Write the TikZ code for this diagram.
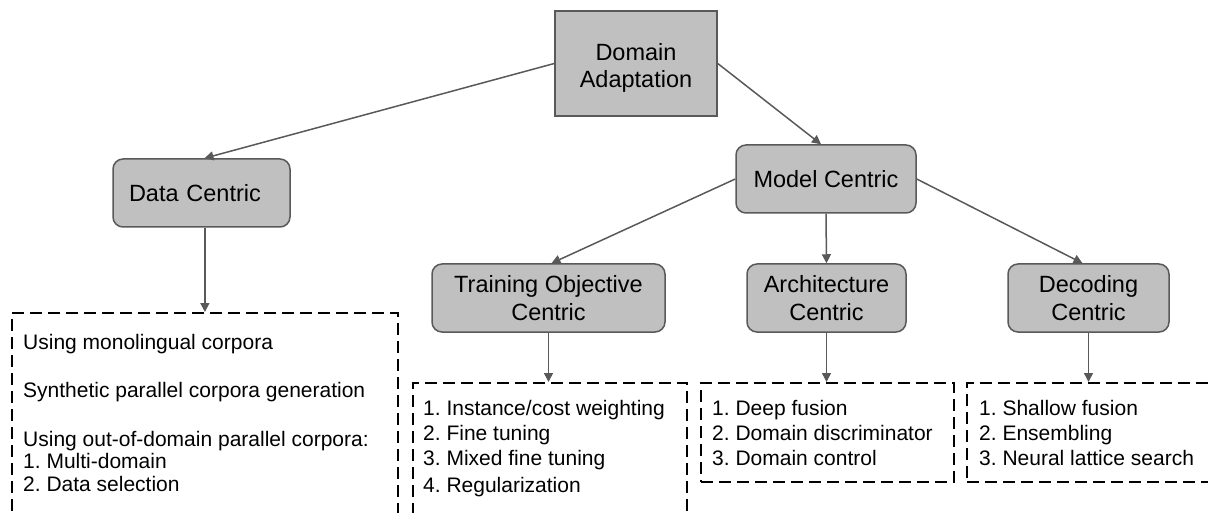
\documentclass[tikz,border=0pt]{standalone}
\usepackage{fontspec}
\setmainfont{Liberation Sans}
\usetikzlibrary{arrows.meta}
\definecolor{boxfill}{HTML}{C0C0C0}
\definecolor{boxline}{HTML}{595959}
\definecolor{connclr}{HTML}{595959}
\frenchspacing
\begin{document}
\begin{tikzpicture}[x=1pt,y=-1pt,
  catbox/.style={draw=boxline, fill=boxfill, line width=1.5pt, rounded corners=10pt,
    align=center, font=\fontsize{23.5}{27.5}\selectfont, inner sep=0pt, minimum height=68pt},
  rootbox/.style={catbox, rounded corners=0pt},
  labeltext/.style={align=center, font=\fontsize{23.5}{27.5}\selectfont, inner sep=0pt},
  listbox/.style={draw=black, line width=1.8pt, dash pattern=on 12pt off 6pt, inner sep=0pt},
  item/.style={anchor=base west, inner sep=0pt, font=\fontsize{21}{25}\selectfont},
  conn/.style={draw=connclr, line width=1.5pt, -{Triangle[length=9pt,width=9pt]}},
]
\useasboundingbox (0,0) rectangle (1208,513);
\clip (0,0) rectangle (1208,513);

% category boxes
\node[rootbox, minimum width=162pt, minimum height=105pt] (da) at (636,63.5) {};
\node[labeltext] (datext) at (636,68) {Domain\\Adaptation};
\node[catbox, minimum width=177pt, align=left, text width=145pt, inner xsep=16pt] (dc) at (201.5,193) {Data Centric};
\node[catbox, minimum width=180pt] (mc) at (826,179) {Model Centric};
\node[catbox, minimum width=233pt] (toc) at (548.5,298) {Training Objective\\Centric};
\node[catbox, minimum width=159pt] (ac) at (826.5,298) {Architecture\\Centric};
\node[catbox, minimum width=161pt] (dec) at (1088.5,298) {Decoding\\Centric};

% dashed list boxes
\node[listbox, anchor=north west, minimum width=386pt, minimum height=230pt] (dlist) at (11,312) {};
\node[listbox, anchor=north west, minimum width=274pt, minimum height=160pt] (tlist) at (412,382) {};
\node[listbox, anchor=north west, minimum width=253pt, minimum height=99pt] (alist) at (700,382) {};
\node[listbox, anchor=north west, minimum width=260pt, minimum height=99pt] (declist) at (966,382) {};

% list texts
\node[item] (d1) at (23,349) {Using monolingual corpora};
\node[item] (d2) at (23,397.5) {Synthetic parallel corpora generation};
\node[item] (d3) at (23,446) {Using out-of-domain parallel corpora:};
\node[item] (d4) at (23,468.5) {1. Multi-domain};
\node[item] (d5) at (23,491) {2. Data selection};

\node[item] (t1) at (423,415.5) {1. Instance/cost weighting};
\node[item] (t2) at (423,440.5) {2. Fine tuning};
\node[item] (t3) at (423,465.5) {3. Mixed fine tuning};
\node[item] (t4) at (423,492.5) {4. Regularization};

\node[item] (a1) at (712,415.5) {1. Deep fusion};
\node[item] (a2) at (712,440.5) {2. Domain discriminator};
\node[item] (a3) at (712,465.5) {3. Domain control};

\node[item] (e1) at (979,415.5) {1. Shallow fusion};
\node[item] (e2) at (979,440.5) {2. Ensembling};
\node[item] (e3) at (979,465.5) {3. Neural lattice search};

% connectors
\draw[conn] (da.west) -- ([xshift=3pt]dc.north);
\draw[conn] (da.east) -- ([xshift=-5pt]mc.north);
\draw[conn] (mc.west) -- ([xshift=3pt]toc.north);
\draw[conn] (mc.south) -- (ac.north);
\draw[conn] (mc.east) -- ([xshift=-6pt]dec.north);
\draw[conn] (dlist.north |- dc.south) -- (dlist.north);
\draw[conn] (toc.south) -- (toc.south |- tlist.north);
\draw[conn] (ac.south) -- (ac.south |- alist.north);
\draw[conn] (dec.south) -- (dec.south |- declist.north);
\end{tikzpicture}
\end{document}
